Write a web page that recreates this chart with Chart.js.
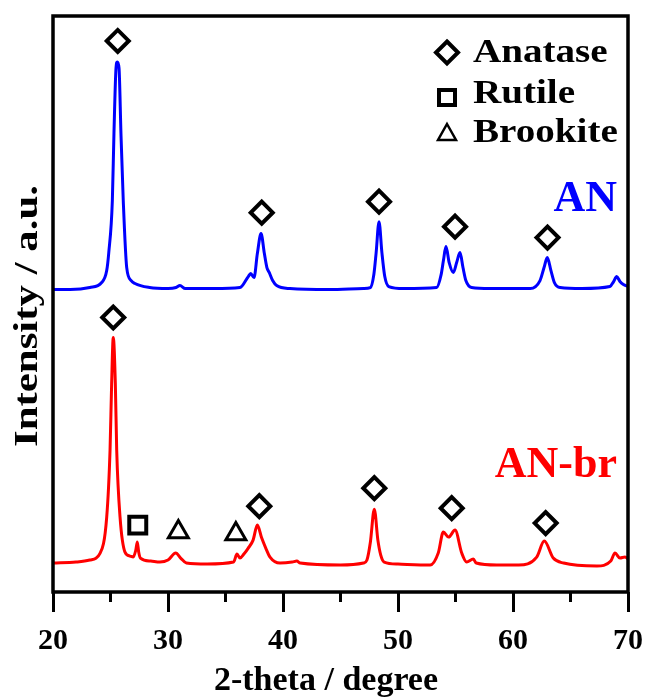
<!DOCTYPE html>
<html>
<head>
<meta charset="utf-8">
<script src="https://cdn.jsdelivr.net/npm/chart.js@4.4.1/dist/chart.umd.min.js"></script>
<style>
  html, body { margin: 0; padding: 0; background: #fff; }
</style>
</head>
<body>
<canvas id="xrdChart" width="646" height="700"></canvas>
<script>
// AN pattern (2-theta, intensity a.u., offset upwards)
const anTheta = [20.0, 21.5, 23.2, 24.23, 24.67, 24.85, 25.16, 25.3, 25.48, 25.59, 25.74, 25.91, 26.11, 26.41, 26.8, 27.13, 28.4, 30.0, 30.7, 31.04, 31.5, 34.0, 36.26, 36.98, 37.19, 37.48, 37.77, 38.09, 38.38, 38.6, 38.81, 39.1, 39.45, 40.6, 44.0, 47.0, 47.6, 47.9, 48.1, 48.35, 48.6, 48.85, 49.2, 50.5, 53.36, 53.75, 53.95, 54.17, 54.45, 54.81, 55.1, 55.39, 55.65, 55.9, 56.4, 58.0, 61.5, 62.35, 62.7, 62.98, 63.3, 63.6, 64.1, 66.0, 68.43, 68.75, 69.02, 69.3, 69.6, 70.0];
const anCounts = [303, 303, 305, 310, 322, 340, 392, 459, 525, 531, 525, 459, 392, 325, 312, 309, 305, 304, 305, 307, 304, 304, 305, 316, 319, 315, 339, 359, 339, 325, 320, 312, 307, 304, 303, 304, 305, 318, 340, 371, 340, 316, 306, 304, 305, 318, 332, 346, 330, 320, 330, 340, 325, 312, 305, 304, 304, 312, 325, 335, 322, 310, 305, 304, 306, 311, 316, 311, 308, 306];

// AN-br pattern
const brTheta = [20.0, 22.0, 23.2, 24.1, 24.67, 24.96, 25.1, 25.24, 25.42, 25.54, 25.83, 26.26, 26.7, 26.98, 27.2, 27.33, 27.45, 27.6, 28.5, 29.3, 30.0, 30.67, 31.1, 31.6, 33.4, 35.7, 36.0, 36.26, 36.6, 36.98, 37.4, 37.77, 38.15, 38.5, 38.87, 39.74, 40.8, 41.2, 41.5, 45.0, 47.0, 47.3, 47.6, 47.94, 48.25, 48.5, 48.8, 50.0, 52.8, 53.5, 53.94, 54.4, 54.96, 55.54, 55.97, 56.55, 56.8, 58.58, 60.5, 62.06, 62.72, 63.5, 64.4, 67.3, 68.5, 68.87, 69.3, 69.74, 70.0];
const brCounts = [29, 30, 32, 39, 75, 142, 209, 255, 209, 142, 75, 40, 36, 35, 42, 50, 40, 34, 31, 30, 32, 39, 34, 29, 28, 30, 38, 34, 38, 44, 52, 67, 54, 44, 35, 29, 30, 31, 29, 27, 29, 32, 50, 83, 52, 37, 30, 28, 27, 39, 60, 55, 62, 39, 30, 33, 29, 27, 27, 35, 51, 34, 29, 26, 31, 39, 34, 35, 33];

// phase markers
const anataseTheta = [25.63, 38.15, 48.35, 54.96, 63.0, 25.24, 37.94, 47.94, 54.67, 62.84];
const anataseY = [552, 380, 391, 366, 355, 275, 86, 104, 84, 69];
const rutileTheta = [27.37];
const rutileY = [67];
const brookiteTheta = [30.9, 35.9];
const brookiteY = [60, 58];

const minorTicks = [25, 35, 45, 55, 65];
const legendItems = ['Anatase', 'Rutile', 'Brookite'];

const toPoints = (xs, ys) => xs.map((x, i) => ({ x: x, y: ys[i] }));
const serif = 'Liberation Serif, Times New Roman, serif';

function drawMarker(ctx, style, x, y) {
  ctx.beginPath();
  if (style === 'diamond') {
    ctx.lineWidth = 4;
    ctx.moveTo(x, y - 11); ctx.lineTo(x + 11, y); ctx.lineTo(x, y + 11); ctx.lineTo(x - 11, y);
  } else if (style === 'square') {
    ctx.lineWidth = 4;
    ctx.rect(x - 8, y - 7.5, 16, 15);
  } else {
    ctx.lineWidth = 2.5;
    ctx.moveTo(x, y - 8); ctx.lineTo(x + 9, y + 8); ctx.lineTo(x - 9, y + 8);
  }
  ctx.closePath();
  ctx.stroke();
}

function wideText(ctx, text, x, y, sx, align) {
  ctx.save();
  ctx.translate(x, y);
  ctx.scale(sx, 1);
  ctx.textAlign = align;
  ctx.fillText(text, 0, 0);
  ctx.restore();
}

const decor = {
  id: 'decor',
  afterDraw(chart) {
    const { ctx, chartArea: a } = chart;
    const x = chart.scales.x;
    ctx.save();
    ctx.strokeStyle = '#000';
    ctx.fillStyle = '#000';
    // frame
    ctx.lineWidth = 3.5;
    ctx.strokeRect(a.left, a.top, a.right - a.left, a.bottom - a.top);
    // minor ticks, shorter
    ctx.lineWidth = 3;
    minorTicks.forEach(v => {
      const px = x.getPixelForValue(v);
      ctx.beginPath();
      ctx.moveTo(px, a.bottom);
      ctx.lineTo(px, a.bottom + 10);
      ctx.stroke();
    });
    // axis titles
    ctx.textBaseline = 'alphabetic';
    ctx.font = 'bold 34px ' + serif;
    wideText(ctx, '2-theta / degree', 326, 690, 1, 'center');
    ctx.save();
    ctx.translate(37, 316);
    ctx.rotate(-Math.PI / 2);
    wideText(ctx, 'Intensity / a.u.', 0, 0, 1.26, 'center');
    ctx.restore();
    // legend
    const styles = ['diamond', 'square', 'triangle'];
    const rows = [[52.5, 62], [97.5, 103], [132, 142]];
    legendItems.forEach((t, i) => {
      drawMarker(ctx, styles[i], 447, rows[i][0]);
      wideText(ctx, t, 473, rows[i][1], 1.15, 'left');
    });
    // sample labels
    ctx.font = 'bold 44px ' + serif;
    ctx.fillStyle = '#0000ff';
    wideText(ctx, 'AN', 617, 211, 1, 'right');
    ctx.fillStyle = '#ff0000';
    wideText(ctx, 'AN-br', 617, 477, 1, 'right');
    ctx.restore();
  }
};

const lineStyle = { pointRadius: 0, borderWidth: 3, fill: false, cubicInterpolationMode: 'monotone' };
const markStyle = { showLine: false, pointBorderColor: '#000', pointBackgroundColor: 'rgba(0,0,0,0)' };

new Chart('xrdChart', {
  type: 'line',
  data: {
    datasets: [
      Object.assign({ label: 'AN', data: toPoints(anTheta, anCounts), borderColor: '#0000ff' }, lineStyle),
      Object.assign({ label: 'AN-br', data: toPoints(brTheta, brCounts), borderColor: '#ff0000' }, lineStyle),
      Object.assign({ label: 'Anatase', data: toPoints(anataseTheta, anataseY), pointStyle: 'rectRot', pointRadius: 11, pointBorderWidth: 4 }, markStyle),
      Object.assign({ label: 'Rutile', data: toPoints(rutileTheta, rutileY), pointStyle: 'rect', pointRadius: 12, pointBorderWidth: 4 }, markStyle),
      Object.assign({ label: 'Brookite', data: toPoints(brookiteTheta, brookiteY), pointStyle: 'triangle', pointRadius: 11.5, pointBorderWidth: 3 }, markStyle)
    ]
  },
  options: {
    responsive: false,
    animation: false,
    layout: { padding: { left: 53, right: 18, top: 15, bottom: 0 } },
    plugins: {
      legend: { display: false },
      tooltip: { enabled: false }
    },
    scales: {
      x: {
        type: 'linear',
        min: 20,
        max: 70,
        border: { display: false },
        grid: {
          drawOnChartArea: false,
          drawTicks: true,
          tickLength: 20,
          tickWidth: 3,
          tickColor: c => (c.tick && c.tick.value % 10 === 0) ? '#000' : 'rgba(0,0,0,0)'
        },
        ticks: {
          stepSize: 5,
          autoSkip: false,
          maxRotation: 0,
          padding: 11,
          color: '#000',
          font: { family: serif, size: 30, weight: 'bold' },
          callback: v => (v % 10 === 0 ? v : '')
        },
        title: { display: false },
        afterFit: s => { s.height = 108; s.paddingLeft = 0; s.paddingRight = 0; }
      },
      y: { display: false, min: 0, max: 577 }
    }
  },
  plugins: [decor]
});
</script>
</body>
</html>
